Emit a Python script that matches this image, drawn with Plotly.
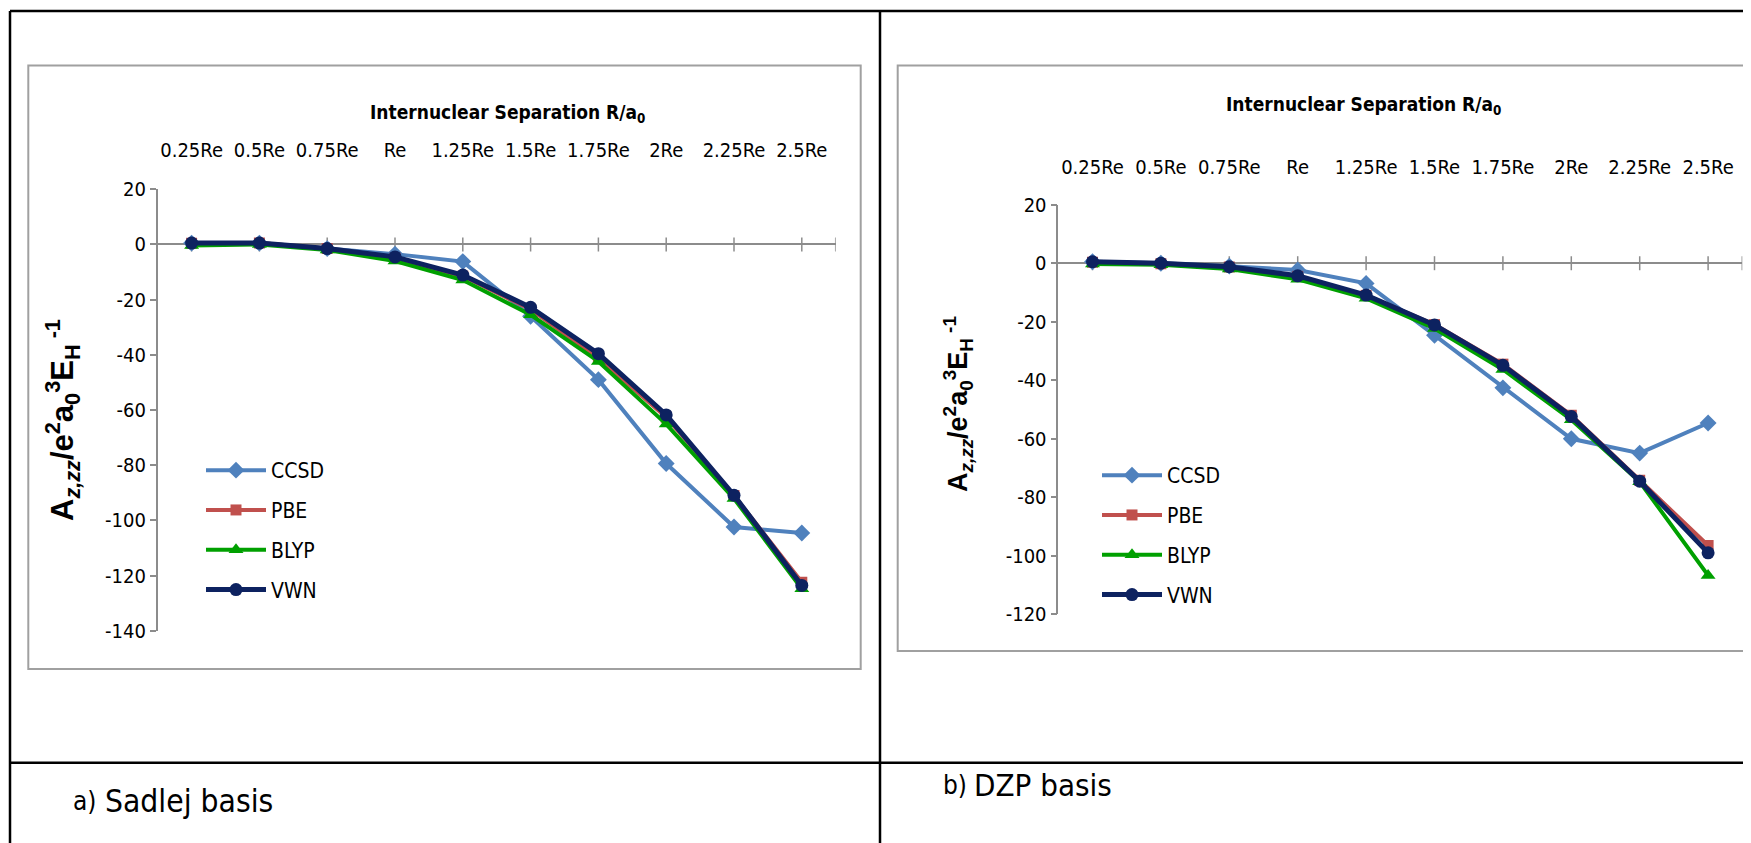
import plotly.graph_objects as go

W, H = 1751, 843
OFF = 8  # page offset of the plot inside the browser window

labels = ["0.25Re", "0.5Re", "0.75Re", "Re", "1.25Re", "1.5Re", "1.75Re", "2Re", "2.25Re", "2.5Re"]
series_names = ["CCSD", "PBE", "BLYP", "VWN"]

# a) Sadlej basis
ccsd_a = [0.5, 0.5, -1.5, -3.5, -6.2, -26.0, -49.0, -79.4, -102.4, -104.6]
pbe_a = [0.4, 0.5, -1.5, -5.0, -11.5, -23.5, -41.2, -62.6, -91.0, -122.4]
blyp_a = [-0.4, 0.0, -2.0, -6.0, -12.9, -25.5, -42.4, -65.1, -92.1, -124.8]
vwn_a = [0.5, 0.5, -1.5, -4.5, -11.1, -22.8, -39.6, -61.8, -90.9, -123.6]

# b) DZP basis
ccsd_b = [0.5, 0.0, -1.0, -2.3, -6.9, -24.6, -42.6, -60.0, -64.9, -54.6]
pbe_b = [0.3, -0.2, -1.3, -4.5, -11.0, -21.0, -34.5, -52.0, -74.2, -96.5]
blyp_b = [-0.3, -0.5, -2.0, -5.5, -12.0, -22.3, -36.3, -53.5, -74.7, -106.7]
vwn_b = [0.5, 0.0, -1.2, -4.3, -10.9, -21.1, -34.9, -52.4, -74.5, -99.0]

yticks_a = [20, 0, -20, -40, -60, -80, -100, -120, -140]
yticks_b = [20, 0, -20, -40, -60, -80, -100, -120]

colors = ["#4F81BD", "#C0504D", "#00A000", "#0D2260"]
symbols = ["diamond", "square", "triangle-up", "circle"]
msizes = [13, 11, 13, 13]
lwidths = [4, 4, 4, 5]

TICKFONT = "Liberation Sans Narrow, DejaVu Sans Condensed, Roboto Condensed, Roboto, sans-serif"
BOLDFONT = "Liberation Sans, Arial, sans-serif"

def px(x):
    return (x - OFF) / W

def py(y):
    return 1 - (y - OFF) / H

fig = go.Figure()

xs = list(range(len(labels)))
tick_x = xs + [len(labels) - 0.5]

panels = [
    dict(data=[ccsd_a, pbe_a, blyp_a, vwn_a], xa="x", ya="y", legend="legend"),
    dict(data=[ccsd_b, pbe_b, blyp_b, vwn_b], xa="x2", ya="y2", legend="legend2"),
]

for p in panels:
    # tick marks crossing the zero line
    fig.add_trace(go.Scatter(
        x=tick_x, y=[0] * len(tick_x), mode="markers", xaxis=p["xa"], yaxis=p["ya"],
        marker=dict(symbol="line-ns", size=10, line=dict(color="#8C8C8C", width=1.5)),
        showlegend=False, hoverinfo="skip"))
    for name, vals, c, s, ms, lw in zip(series_names, p["data"], colors, symbols, msizes, lwidths):
        fig.add_trace(go.Scatter(
            x=xs, y=vals, name=name, mode="lines+markers", xaxis=p["xa"], yaxis=p["ya"],
            line=dict(color=c, width=lw), marker=dict(symbol=s, size=ms, color=c),
            legend=p["legend"], legendgroup=name))

xcommon = dict(range=[-0.5, len(labels) - 0.5], tickvals=xs, ticktext=labels, side="top",
               showline=False, ticks="", showgrid=False, zeroline=False, automargin=False,
               tickfont=dict(family=TICKFONT, size=20, color="#000"))
ycommon = dict(showline=True, linecolor="#8C8C8C", linewidth=1.5, ticks="outside",
               ticklen=6, tickwidth=1.5, tickcolor="#8C8C8C", showgrid=False, automargin=False,
               zeroline=True, zerolinecolor="#8C8C8C", zerolinewidth=1.5,
               tickfont=dict(family=TICKFONT, size=20, color="#000"))

fig.update_layout(
    width=W, height=H, margin=dict(l=0, r=0, t=0, b=0, autoexpand=False),
    paper_bgcolor="white", plot_bgcolor="white",
    xaxis=dict(domain=[px(157.7), px(835.7)], anchor="y", ticklabelstandoff=27, **xcommon),
    yaxis=dict(domain=[py(630.7), py(189.3)], range=[-140, 20], anchor="x",
               tickvals=yticks_a, ticktext=[str(v) for v in yticks_a], **ycommon),
    xaxis2=dict(domain=[px(1058.3), px(1742.3)], anchor="y2", ticklabelstandoff=26, **xcommon),
    yaxis2=dict(domain=[py(614.3), py(204.7)], range=[-120, 20], anchor="x2",
                tickvals=yticks_b, ticktext=[str(v) for v in yticks_b], **ycommon),
    legend=dict(x=px(201), y=py(450), xanchor="left", yanchor="top", bgcolor="rgba(0,0,0,0)",
                font=dict(family=TICKFONT, size=21, color="#000"), itemwidth=60,
                tracegroupgap=9.5),
    legend2=dict(x=px(1097), y=py(455), xanchor="left", yanchor="top", bgcolor="rgba(0,0,0,0)",
                 font=dict(family=TICKFONT, size=21, color="#000"), itemwidth=60,
                 tracegroupgap=9.5),
    showlegend=True,
)

shapes = []
# table lines
blk = dict(color="black", width=2.5)
shapes.append(dict(type="line", xref="paper", yref="paper", x0=px(10), x1=1.01, y0=py(11), y1=py(11), line=blk))
shapes.append(dict(type="line", xref="paper", yref="paper", x0=px(10), x1=px(10), y0=py(11), y1=-0.02, line=blk))
shapes.append(dict(type="line", xref="paper", yref="paper", x0=px(880), x1=px(880), y0=py(11), y1=-0.02, line=blk))
shapes.append(dict(type="line", xref="paper", yref="paper", x0=px(10), x1=1.01, y0=py(762.7), y1=py(762.7), line=blk))
# chart area boxes
gry = dict(color="#A0A0A0", width=2)
shapes.append(dict(type="rect", xref="paper", yref="paper", x0=px(28.3), x1=px(860.7), y0=py(669), y1=py(65.5), line=gry))
shapes.append(dict(type="rect", xref="paper", yref="paper", x0=px(897.7), x1=1.02, y0=py(651), y1=py(65.5), line=gry))
fig.update_layout(shapes=shapes)

xtitle = "<b>Internuclear Separation R/a<sub>0</sub></b>"
ytitle = "<b>A<sub><i>z,zz</i></sub>/e<sup>2</sup>a<sub>0</sub><sup>3</sup>E<sub>H</sub><sup> -1</sup></b>"

def note(text, x, y, size, family=TICKFONT, xanchor="center", angle=0):
    return dict(text=text, x=px(x), y=py(y), xref="paper", yref="paper", showarrow=False,
                xanchor=xanchor, yanchor="middle", textangle=angle,
                font=dict(family=family, size=size, color="#000"))

ann = [
    note(xtitle, 508, 113, 19),
    note(xtitle, 1363, 106, 19),
    note(ytitle, 62, 420, 31, family=BOLDFONT, angle=-90),
    note(ytitle, 958, 404, 27, family=BOLDFONT, angle=-90),
    note("a)", 71, 801, 26, xanchor="left"),
    note("Sadlej basis", 102.5, 801, 31.5, xanchor="left"),
    note("b)", 941, 785, 26, xanchor="left"),
    note("DZP basis", 972, 785, 31, xanchor="left"),
]
fig.update_layout(annotations=ann)

fig.write_html("out.html")
